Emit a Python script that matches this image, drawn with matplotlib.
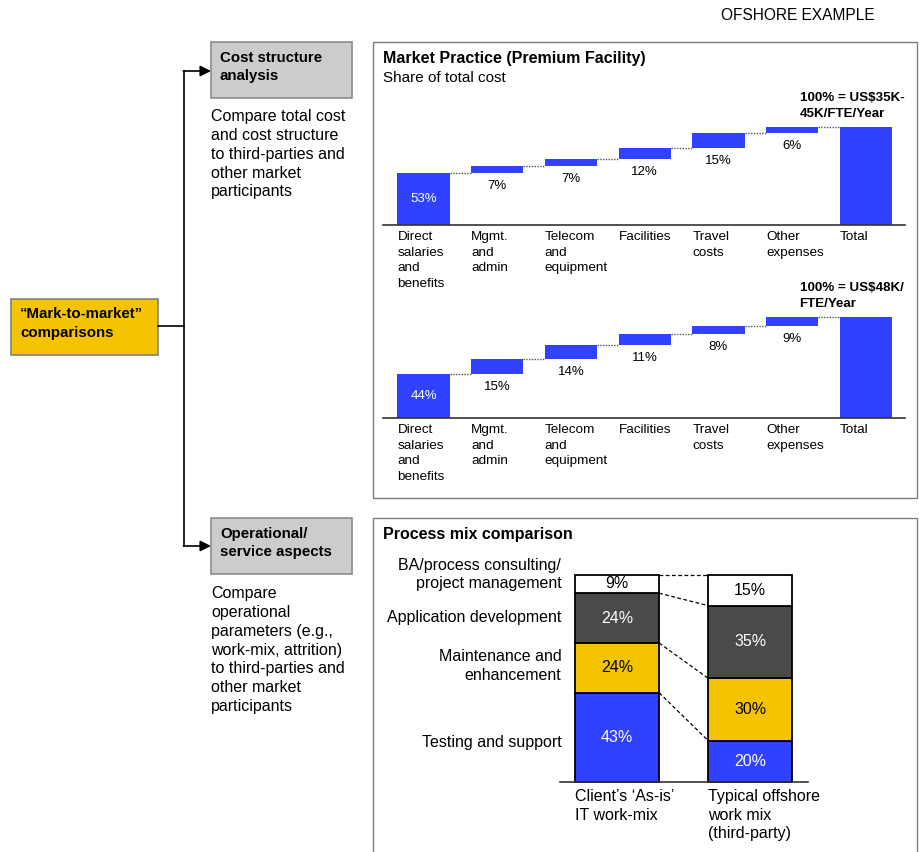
import numpy as np
import matplotlib
matplotlib.use('Agg')
import matplotlib.pyplot as plt
from matplotlib.patches import Rectangle

plt.rcParams['font.family'] = ['Liberation Sans', 'DejaVu Sans']

W, H = 919, 852

# cost structure waterfalls
cost_categories = ['Direct\nsalaries\nand\nbenefits', 'Mgmt.\nand\nadmin',
                   'Telecom\nand\nequipment', 'Facilities', 'Travel\ncosts',
                   'Other\nexpenses', 'Total']
premium_shares = [53, 7, 7, 12, 15, 6]
premium_total_label = '100% = US$35K-\n45K/FTE/Year'
offshore_shares = [44, 15, 14, 11, 8, 9]
offshore_total_label = '100% = US$48K/\nFTE/Year'

# process mix (bottom to top)
mix_columns = ['Client\u2019s \u2018As-is\u2019\nIT work-mix',
               'Typical offshore\nwork mix\n(third-party)']
mix_segments = ['Testing and support', 'Maintenance and\nenhancement',
                'Application development',
                'BA/process consulting/\nproject management']
client_mix = [43, 24, 24, 9]
offshore_mix = [20, 30, 35, 15]

BLUE = '#3041FF'
DARK = '#4A4A4A'
YELLOW = '#F5C400'
mix_colors = [BLUE, YELLOW, DARK, 'white']
mix_text = ['white', 'black', 'white', 'black']
mix_label_y = [19, 56, 79.3, 100]

fig = plt.figure(figsize=(W / 100, H / 100), dpi=100)

base = fig.add_axes([0, 0, 1, 1])
base.set_xlim(0, W)
base.set_ylim(H, 0)
base.axis('off')


def px_axes(left, top, right, bottom):
    ax = fig.add_axes([left / W, 1 - bottom / H, (right - left) / W, (bottom - top) / H])
    ax.patch.set_alpha(0)
    for s in ['top', 'right', 'left']:
        ax.spines[s].set_visible(False)
    ax.spines['bottom'].set_color('#333333')
    ax.spines['bottom'].set_linewidth(1.2)
    ax.set_xticks([])
    ax.set_yticks([])
    return ax


# ---- left-hand tree ----
base.text(875, 15, 'OFSHORE EXAMPLE', ha='right', va='center', fontsize=11.2)

base.add_patch(Rectangle((11, 299), 147, 56, fc=YELLOW, ec='#808080', lw=1.2))
base.text(20, 323.5, '\u201cMark-to-market\u201d\ncomparisons', fontsize=10.8,
          fontweight='bold', va='center', linespacing=1.45)

base.plot([158, 184], [326, 326], color='black', lw=1.2)
base.plot([184, 184], [71, 546], color='black', lw=1.2)
for yy in (71, 546):
    base.annotate('', xy=(211, yy), xytext=(183.4, yy),
                  arrowprops=dict(arrowstyle='-|>', color='black', lw=1.2,
                                  mutation_scale=16, shrinkA=0, shrinkB=0))

for top, label in [(42, 'Cost structure\nanalysis'), (518, 'Operational/\nservice aspects')]:
    base.add_patch(Rectangle((211, top), 141, 56, fc='#CCCCCC', ec='#8c8c8c', lw=1.2))
    base.text(220, top + 25, label, fontsize=10.8, fontweight='bold',
              va='center', linespacing=1.42)

base.text(211, 154.3, 'Compare total cost\nand cost structure\nto third-parties and\n'
          'other market\nparticipants', fontsize=11.5, va='center', linespacing=1.32)
base.text(211, 650, 'Compare\noperational\nparameters (e.g.,\nwork-mix, attrition)\n'
          'to third-parties and\nother market\nparticipants', fontsize=11.5,
          va='center', linespacing=1.32)

# ---- panels ----
base.add_patch(Rectangle((372.5, 42), 544, 456, fill=False, ec='#7f7f7f', lw=1))
base.add_patch(Rectangle((372.5, 518), 544, 400, fill=False, ec='#7f7f7f', lw=1))
base.text(383, 59, 'Market Practice (Premium Facility)', fontsize=11.5,
          fontweight='bold', va='center')
base.text(383, 78, 'Share of total cost', fontsize=11, va='center')
base.text(383, 534, 'Process mix comparison', fontsize=11.5, fontweight='bold', va='center')


def waterfall(ax, shares, total_label):
    steps = np.cumsum(shares)
    n = len(shares)
    x = np.arange(n + 1)
    bottoms = [0] + list(steps[:-1]) + [0]
    heights = list(shares) + [steps[-1]]
    ax.bar(x, heights, bottom=bottoms, width=0.71, color=BLUE, zorder=2)
    for i in range(n):
        ax.plot([i + 0.355, i + 0.645], [steps[i]] * 2, color='#555555',
                lw=1.0, ls=(0, (1, 1)), clip_on=False)
    ax.text(0, shares[0] / 2, f'{shares[0]}%', color='white', ha='center',
            va='center', fontsize=9.5)
    for i in range(1, n):
        ax.annotate(f'{shares[i]}%', (i, bottoms[i]), xytext=(0, -9.4),
                    textcoords='offset points', ha='center', va='center',
                    fontsize=9.5, annotation_clip=False)
    for i, lab in enumerate(cost_categories):
        ax.annotate(lab, (i - 0.355, 0), xytext=(0, -4.5), textcoords='offset points',
                    ha='left', va='top', fontsize=9.7, linespacing=1.38,
                    annotation_clip=False)
    ax.annotate(total_label, (n - 0.9, heights[-1]), xytext=(0, 5),
                textcoords='offset points', ha='left', va='bottom',
                fontweight='bold', fontsize=9.6, linespacing=1.41,
                annotation_clip=False)
    ax.set_xlim(-0.55, 6.53)
    ax.set_ylim(0, 100)


ax1 = px_axes(383, 127, 905, 225)
waterfall(ax1, premium_shares, premium_total_label)
ax2 = px_axes(383, 318, 905, 418)
waterfall(ax2, offshore_shares, offshore_total_label)
for b in ax2.patches:
    b.set_clip_on(False)

# ---- process mix stacked bars ----
ax3 = px_axes(560, 574.5, 808, 782)
mix = np.array([client_mix, offshore_mix])
cols = np.arange(2)
bottom = np.zeros(2)
levels = []
for k in range(len(mix_segments)):
    vals = mix[:, k]
    ax3.bar(cols, vals, bottom=bottom, width=0.632, color=mix_colors[k],
            edgecolor='black', lw=1.3, zorder=2, clip_on=False)
    for j in cols:
        ax3.text(j, bottom[j] + vals[j] / 2, f'{vals[j]}%', color=mix_text[k],
                 ha='center', va='center', fontsize=11.5, zorder=3)
    bottom = bottom + vals
    levels.append(bottom.copy())
for lv in levels:
    ax3.plot([0.316, 0.684], lv, color='black', lw=0.9, ls=(0, (3, 2)), clip_on=False)
for k, seg in enumerate(mix_segments):
    ax3.text(-0.42, mix_label_y[k], seg, ha='right', va='center', fontsize=11.5,
             linespacing=1.3)
for j, col in enumerate(mix_columns):
    ax3.annotate(col, (j - 0.316, 0), xytext=(0, -5), textcoords='offset points',
                 ha='left', va='top', fontsize=11.5, linespacing=1.3,
                 annotation_clip=False)
ax3.set_xlim(-0.43, 1.436)
ax3.set_ylim(0, 100)

fig.savefig('out.png', dpi=100)
